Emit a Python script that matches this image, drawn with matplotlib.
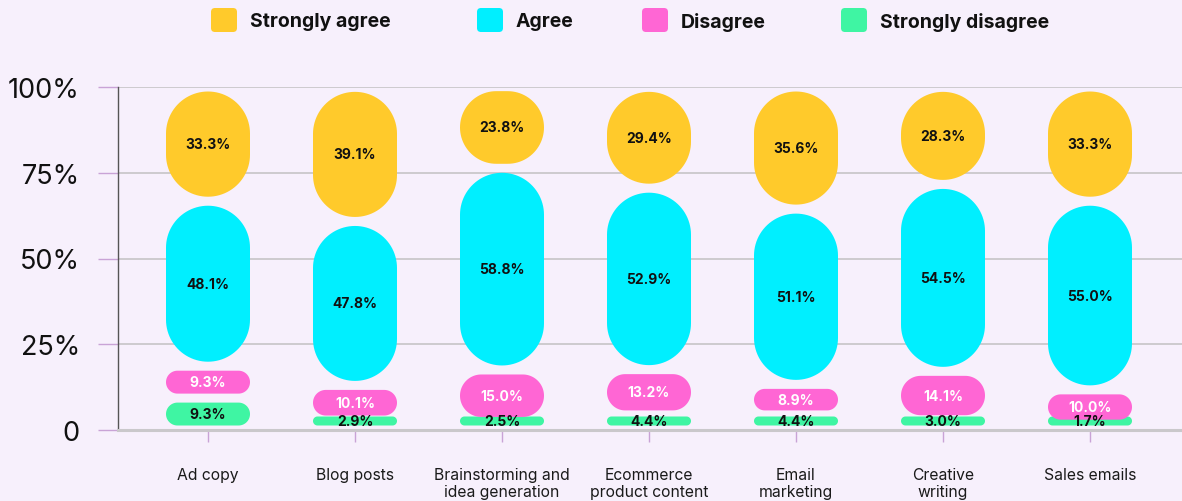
import matplotlib
matplotlib.use("Agg")
import matplotlib.pyplot as plt
from matplotlib.patches import FancyBboxPatch, Polygon
import numpy as np

# ---------------- data ----------------
categories = ["Ad copy", "Blog posts", "Brainstorming and\nidea generation",
              "Ecommerce\nproduct content", "Email\nmarketing",
              "Creative\nwriting", "Sales emails"]
strongly_disagree = [9.3, 2.9, 2.5, 4.4, 4.4, 3.0, 1.7]
disagree = [9.3, 10.1, 15.0, 13.2, 8.9, 14.1, 10.0]
agree = [48.1, 47.8, 58.8, 52.9, 51.1, 54.5, 55.0]
strongly_agree = [33.3, 39.1, 23.8, 29.4, 35.6, 28.3, 33.3]
series_names = ["Strongly agree", "Agree", "Disagree", "Strongly disagree"]
y_ticks = [0, 25, 50, 75, 100]
y_tick_labels = ["0", "25%", "50%", "75%", "100%"]

# ---------------- style ----------------
BG = "#F7F0FC"
C_SA = "#FFCA2B"
C_A = "#00EFFF"
C_D = "#FF66D4"
C_SD = "#3FF5A3"
GRID = "#CAC8CB"
TICK = "#C9A3D6"
FONT = ["Inter", "DejaVu Sans"]
plt.rcParams["font.family"] = FONT

W, H = 1182, 502
fig = plt.figure(figsize=(W / 100, H / 100), dpi=100, facecolor=BG)
ax_l, ax_b, ax_w, ax_h = 118, 71, W - 118, 343
ax = fig.add_axes([ax_l / W, ax_b / H, ax_w / W, ax_h / H])
ax.set_facecolor(BG)

step = 147.0
x0_px = 208 - ax_l
xlim = (-x0_px / step, (ax_w - x0_px) / step)
ax.set_xlim(*xlim)
ax.set_ylim(0, 100)

x_per_px = (xlim[1] - xlim[0]) / ax_w
y_per_px = 100.0 / ax_h

bar_w_px = 84
inset = 4.5 * y_per_px
min_h = 9 * y_per_px


def pill(xc, y0, y1, color):
    # rounded rectangle with circular corners, radius in pixels
    h_px = (y1 - y0) / y_per_px
    r = min(bar_w_px / 2, h_px / 2)
    hx = (bar_w_px / 2 - r) * x_per_px
    ry = r * y_per_px
    rx = r * x_per_px
    t = np.linspace(0, np.pi / 2, 24)
    pts = []
    # top-right corner
    cx, cy = xc + hx, y1 - ry
    pts += list(zip(cx + rx * np.cos(t), cy + ry * np.sin(t)))
    # top-left
    cx = xc - hx
    pts += list(zip(cx + rx * np.cos(t + np.pi / 2), cy + ry * np.sin(t + np.pi / 2)))
    # bottom-left
    cy = y0 + ry
    pts += list(zip(cx + rx * np.cos(t + np.pi), cy + ry * np.sin(t + np.pi)))
    # bottom-right
    cx = xc + hx
    pts += list(zip(cx + rx * np.cos(t + 1.5 * np.pi), cy + ry * np.sin(t + 1.5 * np.pi)))
    ax.add_patch(Polygon(pts, closed=True, fc=color, ec="none", zorder=3))


series = [(strongly_disagree, C_SD, "#111111"),
          (disagree, C_D, "white"),
          (agree, C_A, "#111111"),
          (strongly_agree, C_SA, "#111111")]

x = np.arange(len(categories))
bottom = np.zeros(len(categories))
for vals, col, tcol in series:
    for i, v in enumerate(vals):
        y0 = bottom[i] + inset
        y1 = max(bottom[i] + v - inset, y0 + min_h)
        pill(x[i], y0, y1, col)
        ax.text(x[i], (y0 + y1) / 2, f"{v:.1f}%", ha="center", va="center",
                fontsize=10, fontweight="bold", color=tcol, zorder=4)
    bottom += np.array(vals)

# ---------------- axes ----------------
ax.set_yticks(y_ticks)
ax.set_yticklabels(y_tick_labels)
ax.set_xticks(x)
ax.set_xticklabels(categories, linespacing=1.15)
ax.tick_params(axis="y", length=14.5, width=1, color=TICK, pad=13,
               labelsize=19.5, labelcolor="#111111")
ax.tick_params(axis="x", length=8.5, width=1, color=TICK, pad=18.5,
               labelsize=11.3, labelcolor="#1a1a1a")

ax.grid(axis="y", color=GRID, linewidth=1.3, zorder=0)
ax.set_axisbelow(True)
for s in ["top", "right"]:
    ax.spines[s].set_visible(False)
ax.spines["left"].set_color("#555555")
ax.spines["left"].set_linewidth(1.0)
ax.spines["bottom"].set_color(GRID)
ax.spines["bottom"].set_linewidth(2.2)

# ---------------- legend ----------------
lax = fig.add_axes([0, 0, 1, 1], facecolor="none")
lax.set_xlim(0, W)
lax.set_ylim(H, 0)
lax.axis("off")
leg_x = [211, 477, 642, 841]
leg_cols = [C_SA, C_A, C_D, C_SD]
for lx, col, name in zip(leg_x, leg_cols, series_names):
    lax.add_patch(FancyBboxPatch((lx, 9), 26, 24,
                                 boxstyle="round,pad=0,rounding_size=4",
                                 fc=col, ec="none"))
    lax.text(lx + 39, 22, name, ha="left", va="center", fontsize=14,
             fontweight="bold", color="#111111")

fig.savefig("out.png", dpi=100, facecolor=BG)
